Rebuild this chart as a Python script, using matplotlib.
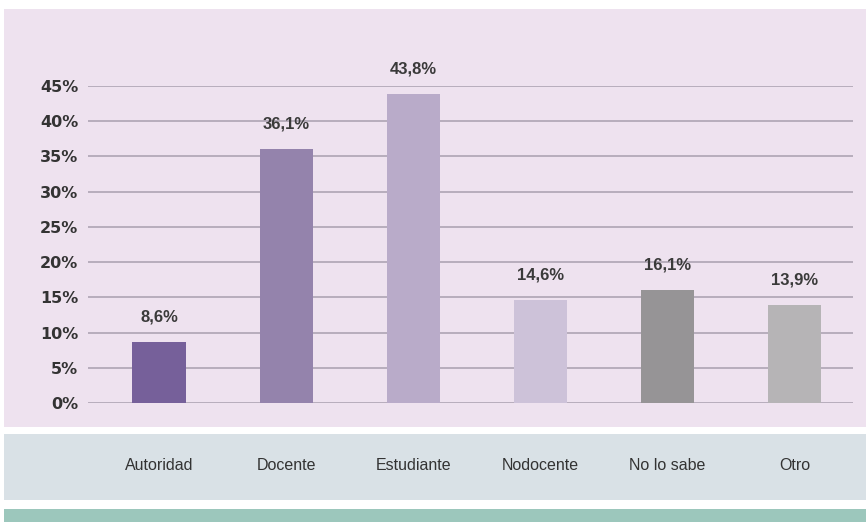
import matplotlib
matplotlib.use("Agg")
from matplotlib import pyplot
from matplotlib.patches import Rectangle

# data
categories = ["Autoridad", "Docente", "Estudiante", "Nodocente", "No lo sabe", "Otro"]
values = [8.6, 36.1, 43.8, 14.6, 16.1, 13.9]
value_labels = ["8,6%", "36,1%", "43,8%", "14,6%", "16,1%", "13,9%"]
yticks = [0, 5, 10, 15, 20, 25, 30, 35, 40, 45]
ytick_labels = ["0%", "5%", "10%", "15%", "20%", "25%", "30%", "35%", "40%", "45%"]
colors = ["#76609a", "#9483ac", "#b9abc9", "#cdc2d9", "#969496", "#b6b4b6"]

W, H = 866, 522
figure = pyplot.figure(figsize=(W / 100, H / 100), dpi=100)
figure.patch.set_facecolor("white")

# background panels (pixel coords -> figure fractions)
def panel(x0, y0, x1, y1, color):
    figure.patches.append(Rectangle((x0 / W, 1 - y1 / H), (x1 - x0) / W, (y1 - y0) / H,
                                    transform=figure.transFigure, facecolor=color,
                                    edgecolor="none", zorder=-10))

panel(4, 9, 866, 427, "#eee2ef")
panel(4, 434, 866, 500, "#d9e1e6")
panel(4, 509, 866, 522, "#9cc7bc")

axis = figure.add_axes([88 / W, 1 - 403 / H, (853 - 88) / W, (403 - 86) / H])
axis.patch.set_alpha(0)
x = list(range(len(categories)))
axis.bar(x, values, width=0.42, color=colors, zorder=3)
axis.set_xlim(-0.56, 5.46)
axis.set_ylim(0, 45)
axis.set_yticks(yticks)
axis.set_yticklabels(ytick_labels, fontsize=11.5, fontweight="bold", color="#333333",
                     family="DejaVu Sans")
axis.tick_params(axis="y", length=0, pad=7)
axis.tick_params(axis="x", length=0)
axis.set_xticks([])
axis.grid(axis="y", color="#b3a9b8", linewidth=1.3, zorder=1)
for side in axis.spines.values():
    side.set_visible(False)

for xi, v, lab in zip(x, values, value_labels):
    axis.annotate(lab, (xi, v), xytext=(0, 18), textcoords="offset points",
                  ha="center", va="center", fontsize=12, fontweight="bold",
                  color="#3a3a3a", family=["Liberation Sans", "DejaVu Sans"],
                  annotation_clip=False)

# category labels in the lower band
for xi, cat in zip(x, categories):
    px = axis.transData.transform((xi, 0))[0]
    figure.text(px / W, 1 - 466 / H, cat, ha="center", va="center", fontsize=11.5,
                color="#333333", family=["Liberation Sans", "DejaVu Sans"])

figure.savefig("out.png", dpi=100)
